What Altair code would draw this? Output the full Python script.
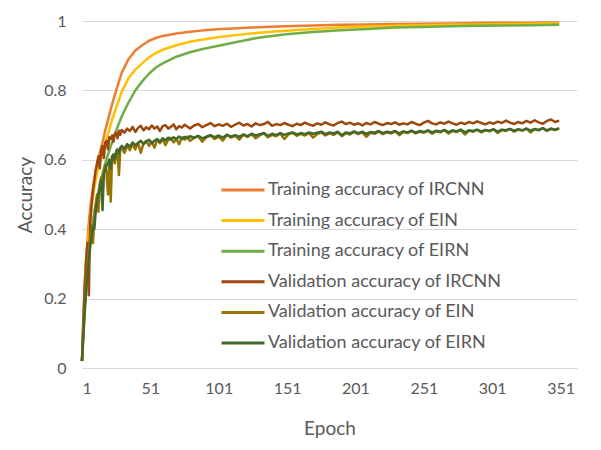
import altair as alt
import pandas as pd

series_names = [
    "Training accuracy of IRCNN",
    "Training accuracy of EIN",
    "Training accuracy of EIRN",
    "Validation accuracy of IRCNN",
    "Validation accuracy of EIN",
    "Validation accuracy of EIRN",
]
series_colors = ["#ED7D31", "#FFC000", "#70AD47", "#9E480E", "#997300", "#43682B"]

x_ticks = [1, 51, 101, 151, 201, 251, 301, 351]
y_ticks = [0, 0.2, 0.4, 0.6, 0.8, 1]

train_epochs = [1, 2, 3, 4, 5, 6, 7, 8, 10, 12, 14, 16, 18, 20, 23, 26, 30, 35, 40, 45,
                50, 55, 60, 70, 80, 90, 100, 115, 130, 150, 170, 190, 210, 230, 250, 270,
                290, 310, 330, 350]

train_ircnn = [0.02, 0.15, 0.24, 0.31, 0.37, 0.42, 0.46, 0.49, 0.545, 0.585, 0.62, 0.65,
               0.685, 0.715, 0.76, 0.80, 0.85, 0.89, 0.915, 0.93, 0.943, 0.951, 0.957,
               0.964, 0.969, 0.973, 0.976, 0.979, 0.982, 0.985, 0.987, 0.989, 0.99, 0.991,
               0.992, 0.993, 0.994, 0.995, 0.995, 0.996]

train_ein = [0.02, 0.13, 0.21, 0.28, 0.34, 0.39, 0.43, 0.465, 0.52, 0.56, 0.59, 0.62,
             0.65, 0.675, 0.715, 0.75, 0.795, 0.835, 0.86, 0.878, 0.895, 0.908, 0.917,
             0.93, 0.94, 0.947, 0.953, 0.96, 0.966, 0.972, 0.977, 0.981, 0.984, 0.986,
             0.988, 0.989, 0.99, 0.991, 0.992, 0.993]

train_eirn = [0.02, 0.11, 0.19, 0.25, 0.30, 0.34, 0.37, 0.40, 0.45, 0.49, 0.525, 0.56,
              0.59, 0.615, 0.65, 0.685, 0.725, 0.765, 0.80, 0.826, 0.848, 0.866, 0.878,
              0.897, 0.91, 0.92, 0.928, 0.94, 0.952, 0.962, 0.968, 0.973, 0.977, 0.981,
              0.983, 0.985, 0.986, 0.987, 0.988, 0.989]

val_epochs = list(range(1, 31)) + list(range(32, 81, 2)) + list(range(83, 351, 3))

val_ircnn = [
    0.02, 0.13, 0.24, 0.31, 0.36, 0.21, 0.42, 0.47, 0.51, 0.54,
    0.57, 0.59, 0.61, 0.575, 0.625, 0.64, 0.605, 0.65, 0.655, 0.63,
    0.665, 0.66, 0.67, 0.652, 0.675, 0.678, 0.662, 0.684, 0.672, 0.686,
    0.678, 0.69, 0.683, 0.695, 0.68, 0.692, 0.698, 0.685, 0.694, 0.688,
    0.699, 0.69, 0.696, 0.683, 0.697, 0.7, 0.69, 0.695, 0.702, 0.688,
    0.697, 0.693, 0.701, 0.696, 0.69,
    0.699, 0.703, 0.694, 0.7, 0.706, 0.697, 0.702, 0.698, 0.704, 0.695,
    0.701, 0.707, 0.699, 0.703, 0.696, 0.705, 0.7, 0.703, 0.709, 0.698,
    0.703, 0.7, 0.706, 0.701, 0.697, 0.704, 0.7, 0.707, 0.702, 0.698,
    0.705, 0.701, 0.708, 0.702, 0.699, 0.706, 0.71, 0.703, 0.707, 0.701,
    0.705, 0.699, 0.706, 0.702, 0.709, 0.704, 0.7, 0.706, 0.703, 0.708,
    0.701, 0.705, 0.702, 0.709, 0.704, 0.7, 0.707, 0.712, 0.705, 0.702,
    0.708, 0.704, 0.71, 0.705, 0.701, 0.707, 0.703, 0.709, 0.705, 0.711,
    0.706, 0.702, 0.708, 0.704, 0.71, 0.706, 0.713, 0.707, 0.703, 0.709,
    0.705, 0.712, 0.707, 0.714, 0.708, 0.704, 0.712, 0.716, 0.709, 0.713,
]

val_ein = [
    0.02, 0.10, 0.18, 0.25, 0.30, 0.34, 0.37, 0.40, 0.36, 0.43,
    0.47, 0.50, 0.45, 0.53, 0.55, 0.51, 0.57, 0.585, 0.56, 0.50,
    0.60, 0.48, 0.605, 0.615, 0.59, 0.62, 0.625, 0.556, 0.63, 0.636,
    0.62, 0.64, 0.628, 0.645, 0.63, 0.65, 0.62, 0.648, 0.655, 0.64,
    0.652, 0.635, 0.658, 0.648, 0.66, 0.642, 0.657, 0.663, 0.65, 0.66,
    0.645, 0.664, 0.658, 0.667, 0.655,
    0.663, 0.668, 0.652, 0.665, 0.67, 0.66, 0.667, 0.655, 0.672, 0.664,
    0.669, 0.658, 0.672, 0.666, 0.674, 0.662, 0.67, 0.676, 0.665, 0.672,
    0.668, 0.676, 0.66, 0.673, 0.678, 0.669, 0.675, 0.67, 0.677, 0.664,
    0.674, 0.679, 0.67, 0.676, 0.672, 0.679, 0.668, 0.677, 0.673, 0.68,
    0.674, 0.679, 0.666, 0.678, 0.675, 0.681, 0.674, 0.679, 0.676, 0.682,
    0.671, 0.68, 0.677, 0.683, 0.676, 0.681, 0.678, 0.684, 0.675, 0.682,
    0.679, 0.685, 0.676, 0.683, 0.68, 0.686, 0.673, 0.684, 0.681, 0.686,
    0.679, 0.685, 0.682, 0.688, 0.677, 0.686, 0.683, 0.689, 0.681, 0.687,
    0.684, 0.69, 0.679, 0.688, 0.685, 0.691, 0.683, 0.689, 0.686, 0.69,
]

val_eirn = [
    0.02, 0.09, 0.16, 0.22, 0.27, 0.31, 0.35, 0.38, 0.41, 0.40,
    0.45, 0.48, 0.50, 0.52, 0.54, 0.455, 0.56, 0.57, 0.585, 0.59,
    0.60, 0.575, 0.61, 0.615, 0.60, 0.625, 0.63, 0.618, 0.635, 0.64,
    0.632, 0.645, 0.638, 0.65, 0.642, 0.648, 0.655, 0.645, 0.652, 0.658,
    0.648, 0.655, 0.66, 0.652, 0.662, 0.656, 0.664, 0.658, 0.665, 0.66,
    0.667, 0.661, 0.666, 0.662, 0.668,
    0.664, 0.669, 0.662, 0.667, 0.671, 0.665, 0.67, 0.664, 0.672, 0.667,
    0.671, 0.666, 0.673, 0.668, 0.675, 0.67, 0.674, 0.677, 0.669, 0.675,
    0.671, 0.677, 0.672, 0.676, 0.679, 0.673, 0.677, 0.674, 0.679, 0.675,
    0.678, 0.681, 0.674, 0.679, 0.676, 0.681, 0.671, 0.679, 0.676, 0.682,
    0.677, 0.681, 0.675, 0.68, 0.678, 0.683, 0.677, 0.681, 0.679, 0.683,
    0.676, 0.682, 0.679, 0.684, 0.678, 0.683, 0.68, 0.685, 0.679, 0.684,
    0.681, 0.686, 0.68, 0.685, 0.682, 0.687, 0.679, 0.685, 0.683, 0.687,
    0.682, 0.686, 0.684, 0.688, 0.681, 0.687, 0.685, 0.689, 0.684, 0.688,
    0.685, 0.69, 0.684, 0.689, 0.686, 0.691, 0.685, 0.69, 0.687, 0.691,
]

groups = [
    (series_names[0], train_epochs, train_ircnn),
    (series_names[1], train_epochs, train_ein),
    (series_names[2], train_epochs, train_eirn),
    (series_names[3], val_epochs, val_ircnn),
    (series_names[4], val_epochs, val_ein),
    (series_names[5], val_epochs, val_eirn),
]
rows = []
for i, (name, eps, vals) in enumerate(groups):
    for e, v in zip(eps, vals):
        rows.append({"Epoch": e, "Accuracy": v, "Series": name, "k": i})
df = pd.DataFrame(rows)

FONT = "Lato"
GREY = "#595959"

chart = alt.Chart(df).mark_line(strokeWidth=2.5, strokeJoin="round").encode(
    x=alt.X("Epoch:Q",
            scale=alt.Scale(domain=[1, 363], nice=False, zero=False),
            axis=alt.Axis(values=x_ticks, format="d", grid=False, ticks=False,
                          domain=False, labelPadding=12, titlePadding=23,
                          title="Epoch")),
    y=alt.Y("Accuracy:Q",
            scale=alt.Scale(domain=[0, 1], nice=False),
            axis=alt.Axis(values=y_ticks, format="~g", grid=True, ticks=False,
                          domain=False, labelPadding=16, titlePadding=8,
                          title="Accuracy")),
    color=alt.Color("Series:N",
                    scale=alt.Scale(domain=series_names, range=series_colors),
                    legend=alt.Legend(title=None, orient="none", legendX=138,
                                      legendY=160, symbolType="stroke",
                                      symbolSize=1849, symbolStrokeWidth=3,
                                      labelFont=FONT, labelFontSize=18,
                                      labelColor=GREY, labelLimit=0,
                                      labelOffset=2, clipHeight=18,
                                      rowPadding=12.6, padding=0)),
    detail="k:N",
).properties(
    width=495, height=347,
    autosize=alt.AutoSizeParams(type="none"),
    padding={"left": 74, "top": 13, "right": 16, "bottom": 82},
).configure_view(stroke=None).configure_axis(
    labelFont=FONT, labelFontSize=16, labelColor=GREY,
    titleFont=FONT, titleFontSize=19, titleColor=GREY, titleFontWeight="normal",
    gridColor="#D9D9D9", gridWidth=1,
)

chart.save("out.html", embed_options={"renderer": "svg", "actions": False})
